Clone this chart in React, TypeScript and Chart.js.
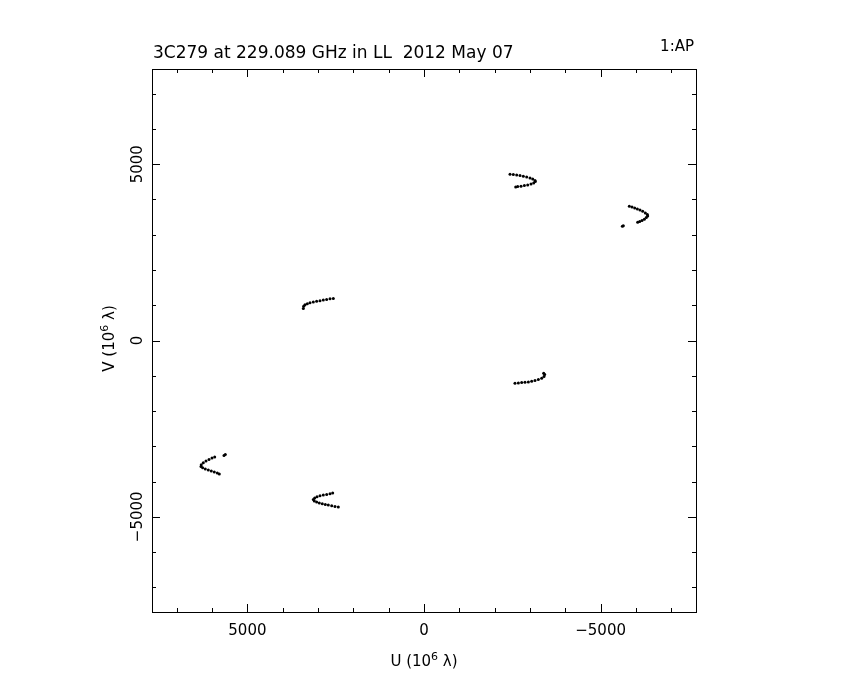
import { useEffect, useRef } from "react";
import { Chart, registerables } from "chart.js";

Chart.register(...registerables);

const TITLE = "3C279 at 229.089 GHz in LL  2012 May 07";
const PANEL = "1:AP";
const X_TITLE = ["U (10", "6", " λ)"];
const Y_TITLE = ["V (10", "6", " λ)"];

const AXIS_MIN = -7700;
const AXIS_MAX = 7700;
const majorTicks = [-5000, 0, 5000];
const majorTickLabels = ["−5000", "0", "5000"];
const minorTicks = [-7000, -6000, -4000, -3000, -2000, -1000, 1000, 2000, 3000, 4000, 6000, 7000];

// arc 1 (upper middle-right)
const arc1U = [-2435, -2529, -2624, -2718, -2812, -2907, -3001, -3077, -3142, -3152, -3105, -3029, -2935, -2841, -2746, -2652, -2596];
const arc1V = [4714, 4705, 4694, 4677, 4657, 4637, 4609, 4581, 4535, 4507, 4468, 4439, 4411, 4394, 4374, 4365, 4354];
// arc 2 (upper far right)
const arc2U = [-5813, -5889, -5964, -6040, -6115, -6191, -6266, -6323, -6332, -6294, -6238, -6172, -6106, -6049, -5643, -5615];
const arc2V = [3808, 3789, 3760, 3732, 3704, 3666, 3619, 3573, 3533, 3488, 3440, 3403, 3375, 3355, 3251, 3243];
// arc 3 (middle left)
const arc3U = [3416, 3407, 3369, 3303, 3227, 3133, 3039, 2944, 2850, 2756, 2661, 2567];
const arc3V = [911, 968, 1015, 1043, 1072, 1090, 1110, 1128, 1147, 1166, 1185, 1194];
// arc 4 (middle right)
const arc4U = [-2576, -2671, -2765, -2859, -2954, -3048, -3142, -3237, -3331, -3397, -3416, -3388];
const arc4V = [-1212, -1203, -1194, -1185, -1175, -1156, -1137, -1109, -1071, -1024, -967, -929];
// arc 5 (lower far left)
const arc5U = [5625, 5662, 5925, 6002, 6087, 6172, 6248, 6305, 6313, 6266, 6191, 6106, 6021, 5936, 5851, 5794];
const arc5V = [-3233, -3261, -3307, -3335, -3375, -3420, -3468, -3525, -3573, -3610, -3646, -3675, -3703, -3731, -3760, -3788];
// arc 6 (lower middle-left)
const arc6U = [2585, 2661, 2755, 2851, 2944, 3029, 3094, 3134, 3106, 3039, 2964, 2879, 2794, 2709, 2613, 2520, 2426];
const arc6V = [-4326, -4346, -4365, -4382, -4402, -4431, -4467, -4507, -4552, -4581, -4609, -4629, -4648, -4666, -4686, -4705, -4722];

const arcs = [
  [arc1U, arc1V],
  [arc2U, arc2V],
  [arc3U, arc3V],
  [arc4U, arc4V],
  [arc5U, arc5V],
  [arc6U, arc6V],
];

const FONT = '"DejaVu Sans", "Liberation Sans", sans-serif';
const W = "400";

function drawSupText(ctx: CanvasRenderingContext2D, parts: string[], size: number) {
  const big = `${W} ${size}px ${FONT}`;
  const small = `${W} ${Math.round(size * 0.7)}px ${FONT}`;
  ctx.font = big;
  const w1 = ctx.measureText(parts[0]).width;
  const w3 = ctx.measureText(parts[2]).width;
  ctx.font = small;
  const w2 = ctx.measureText(parts[1]).width;
  const total = w1 + w2 + w3;
  let x = -total / 2;
  ctx.textAlign = "left";
  ctx.textBaseline = "alphabetic";
  ctx.font = big;
  ctx.fillText(parts[0], x, 0);
  x += w1;
  ctx.font = small;
  ctx.fillText(parts[1], x, -6);
  x += w2;
  ctx.font = big;
  ctx.fillText(parts[2], x, 0);
}

const framePlugin = {
  id: "pgframe",
  afterDraw(chart: any) {
    const { ctx, chartArea: a, scales } = chart;
    const xs = scales.x;
    const ys = scales.y;
    const L = Math.round(a.left);
    const R = Math.round(a.right);
    const T = Math.round(a.top);
    const B = Math.round(a.bottom);
    ctx.save();
    ctx.strokeStyle = "#000";
    ctx.fillStyle = "#000";
    ctx.lineWidth = 1;
    ctx.strokeRect(L + 0.5, T + 0.5, R - L, B - T);

    ctx.beginPath();
    const all = [...majorTicks.map((v) => [v, 8]), ...minorTicks.map((v) => [v, 4])];
    for (const [v, len] of all) {
      const px = Math.round(xs.getPixelForValue(v)) + 0.5;
      ctx.moveTo(px, B);
      ctx.lineTo(px, B - len);
      ctx.moveTo(px, T);
      ctx.lineTo(px, T + len);
      const py = Math.round(ys.getPixelForValue(v)) + 0.5;
      ctx.moveTo(L, py);
      ctx.lineTo(L + len, py);
      ctx.moveTo(R, py);
      ctx.lineTo(R - len, py);
    }
    ctx.stroke();

    // tick labels
    ctx.font = `${W} 15px ${FONT}`;
    ctx.textBaseline = "alphabetic";
    ctx.textAlign = "center";
    majorTicks.forEach((v, i) => {
      const px = xs.getPixelForValue(v);
      ctx.fillText(majorTickLabels[i], px, B + 23);
    });
    majorTicks.forEach((v, i) => {
      const py = ys.getPixelForValue(v);
      ctx.save();
      ctx.translate(L - 10, py);
      ctx.rotate(-Math.PI / 2);
      ctx.textAlign = "center";
      ctx.fillText(majorTickLabels[i], 0, 0);
      ctx.restore();
    });

    // titles
    ctx.font = `${W} 17px ${FONT}`;
    ctx.textAlign = "left";
    ctx.fillText(TITLE, L + 1, 58);
    ctx.font = `${W} 15px ${FONT}`;
    ctx.textAlign = "right";
    ctx.fillText(PANEL, R - 2, 51);

    ctx.save();
    ctx.translate((L + R) / 2, B + 54);
    drawSupText(ctx, X_TITLE, 15);
    ctx.restore();

    ctx.save();
    ctx.translate(L - 38, (T + B) / 2 - 2);
    ctx.rotate(-Math.PI / 2);
    drawSupText(ctx, Y_TITLE, 15);
    ctx.restore();

    ctx.restore();
  },
};

export default function App() {
  const ref = useRef<HTMLCanvasElement | null>(null);
  useEffect(() => {
    if (!ref.current) return;
    const datasets = arcs.map(([us, vs], i) => ({
      label: `arc${i + 1}`,
      data: us.map((u, k) => ({ x: u, y: vs[k] })),
      backgroundColor: "#000",
      borderColor: "#000",
      borderWidth: 0,
      pointRadius: 1.5,
      pointHoverRadius: 1.5,
      showLine: false,
    }));
    const chart = new Chart(ref.current, {
      type: "scatter",
      data: { datasets },
      options: {
        animation: false,
        responsive: false,
        maintainAspectRatio: false,
        layout: { padding: { left: 152, right: 154, top: 69, bottom: 68 } },
        scales: {
          x: { type: "linear", min: AXIS_MIN, max: AXIS_MAX, reverse: true, display: false },
          y: { type: "linear", min: AXIS_MIN, max: AXIS_MAX, display: false },
        },
        plugins: { legend: { display: false }, tooltip: { enabled: false } },
      },
      plugins: [framePlugin],
    });
    return () => chart.destroy();
  }, []);
  return (
    <div style={{ position: "absolute", left: 0, top: 0, width: 850, height: 680, background: "#fff" }}>
      <canvas ref={ref} width={850} height={680} style={{ width: 850, height: 680, display: "block" }} />
    </div>
  );
}
